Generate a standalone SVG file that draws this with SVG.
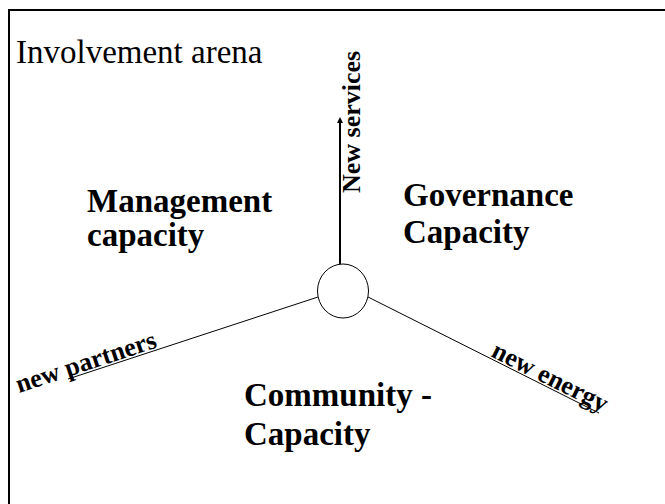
<svg xmlns="http://www.w3.org/2000/svg" width="665" height="504" viewBox="0 0 665 504">
<style>
.big{font-family:"Liberation Serif","Times New Roman",serif;font-weight:bold;font-size:33px;fill:#000}
.title{font-family:"Liberation Serif","Times New Roman",serif;font-size:33px;fill:#000}
.lbl{font-family:"Liberation Serif","Times New Roman",serif;font-weight:bold;font-size:26px;fill:#000}
.thin{stroke:#000;stroke-width:1;fill:none}
</style>
<defs>
<marker id="arr" markerWidth="8" markerHeight="8" refX="4" refY="4" orient="auto" markerUnits="userSpaceOnUse">
<path d="M0,1 L6,4 L0,7 Z" fill="#000"/>
</marker>
</defs>
<rect x="9" y="10" width="700" height="600" fill="none" stroke="#000" stroke-width="2"/>
<text class="title" x="16" y="63">Involvement arena</text>
<g id="connectors">
<line x1="340" y1="264" x2="340" y2="119" stroke="#000" stroke-width="2" marker-end="url(#arr)"/>
<line class="thin" x1="318" y1="297" x2="68" y2="379"/>
<line class="thin" x1="368" y1="297" x2="599" y2="413"/>
</g>
<g id="hub">
<ellipse cx="343" cy="291" rx="25.5" ry="27" fill="#fff" stroke="#000" stroke-width="1"/>
</g>
<g id="management">
<text class="big" x="87" y="212">Management</text>
<text class="big" x="87" y="246">capacity</text>
</g>
<g id="governance">
<text class="big" x="403" y="206">Governance</text>
<text class="big" x="403" y="243">Capacity</text>
</g>
<g id="community">
<text class="big" x="244" y="406">Community -</text>
<text class="big" x="244" y="445">Capacity</text>
</g>
<g id="label-services">
<text class="lbl" transform="translate(360,193) rotate(-90)">New services</text>
</g>
<g id="label-partners">
<text class="lbl" transform="translate(19,393) rotate(-18.3)">new partners</text>
</g>
<g id="label-energy">
<text class="lbl" transform="translate(490,356) rotate(26.6)">new energy</text>
</g>
</svg>
